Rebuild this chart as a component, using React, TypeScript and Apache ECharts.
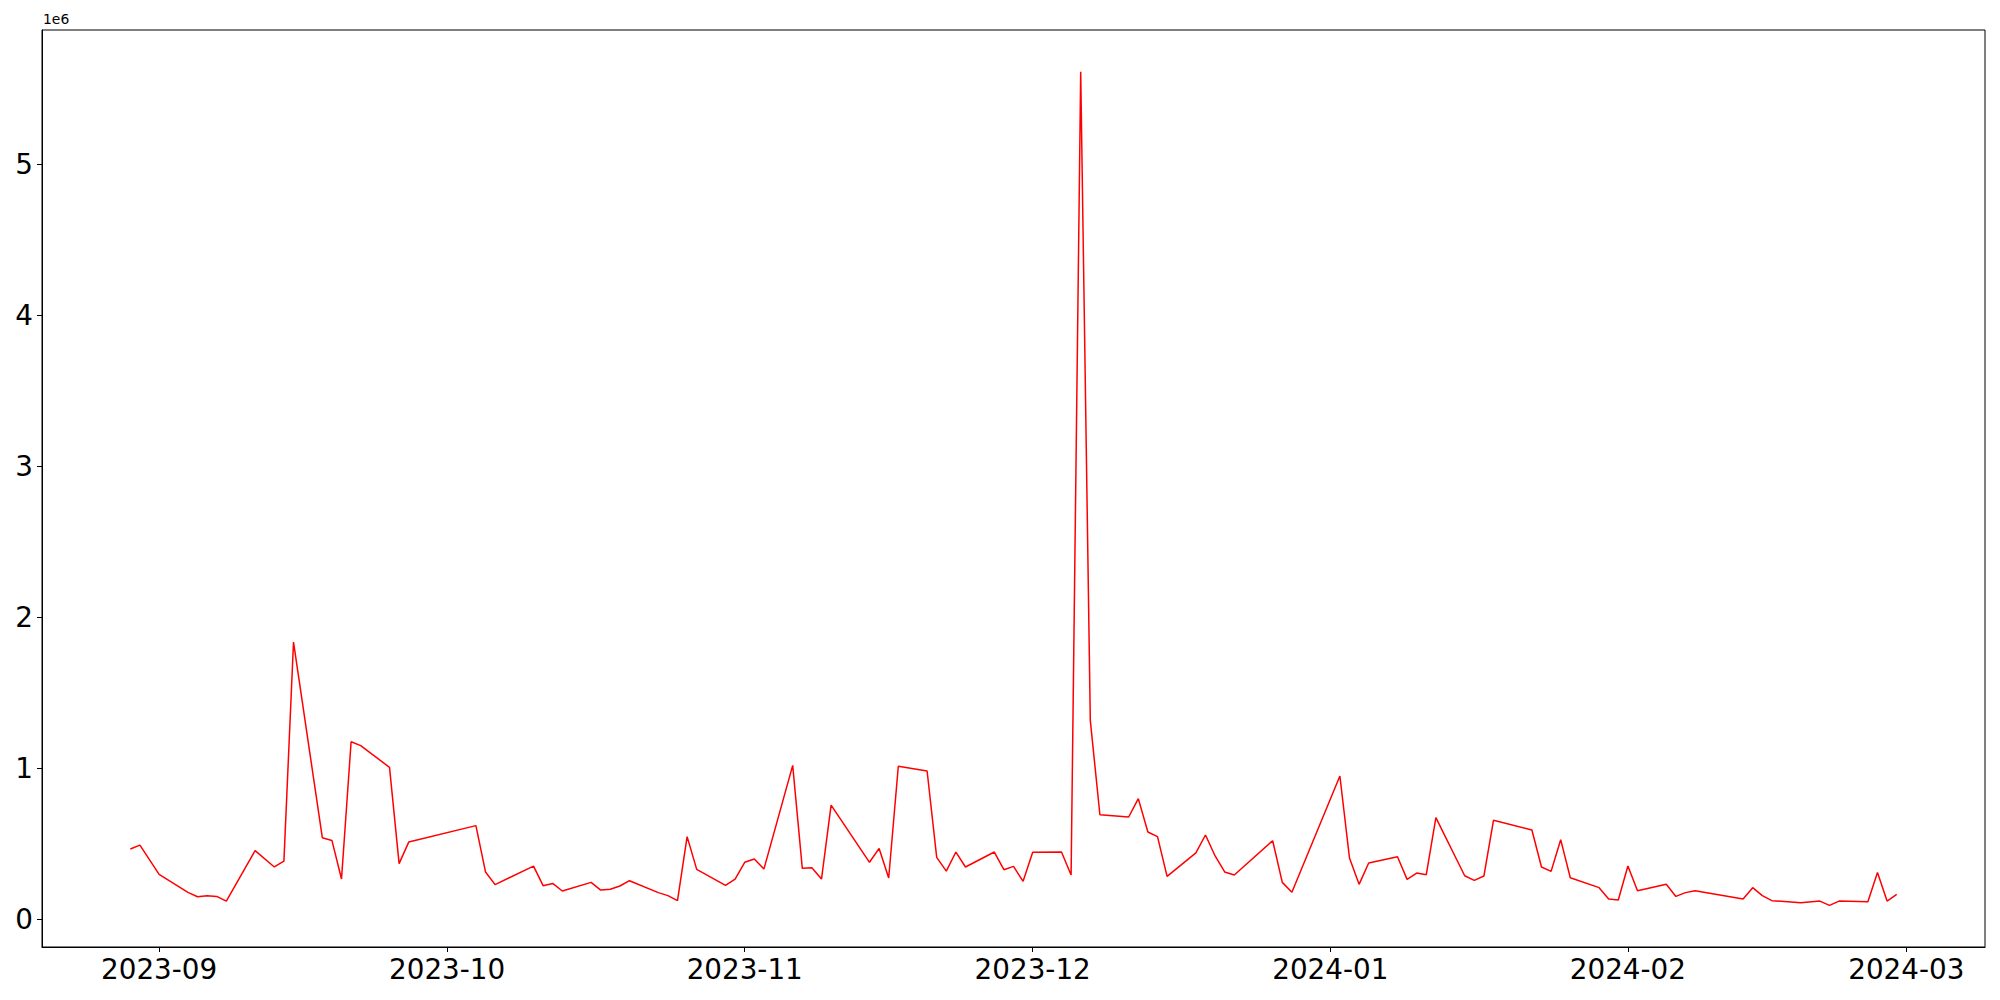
import React, { useEffect, useRef } from "react";
import * as echarts from "echarts";

const dates: string[] = [
  "2023-08-29", "2023-08-30", "2023-09-01", "2023-09-04", "2023-09-05", "2023-09-06", "2023-09-07", "2023-09-08",
  "2023-09-11", "2023-09-13", "2023-09-14", "2023-09-15", "2023-09-18", "2023-09-19", "2023-09-20", "2023-09-21",
  "2023-09-22", "2023-09-25", "2023-09-26", "2023-09-27", "2023-10-04", "2023-10-05", "2023-10-06", "2023-10-10",
  "2023-10-11", "2023-10-12", "2023-10-13", "2023-10-16", "2023-10-17", "2023-10-18", "2023-10-19", "2023-10-20",
  "2023-10-23", "2023-10-24", "2023-10-25", "2023-10-26", "2023-10-27", "2023-10-30", "2023-10-31", "2023-11-01",
  "2023-11-02", "2023-11-03", "2023-11-06", "2023-11-07", "2023-11-08", "2023-11-09", "2023-11-10", "2023-11-14",
  "2023-11-15", "2023-11-16", "2023-11-17", "2023-11-20", "2023-11-21", "2023-11-22", "2023-11-23", "2023-11-24",
  "2023-11-27", "2023-11-28", "2023-11-29", "2023-11-30", "2023-12-01", "2023-12-04", "2023-12-05", "2023-12-06",
  "2023-12-07", "2023-12-08", "2023-12-11", "2023-12-12", "2023-12-13", "2023-12-14", "2023-12-15", "2023-12-18",
  "2023-12-19", "2023-12-20", "2023-12-21", "2023-12-22", "2023-12-26", "2023-12-27", "2023-12-28", "2024-01-02",
  "2024-01-03", "2024-01-04", "2024-01-05", "2024-01-08", "2024-01-09", "2024-01-10", "2024-01-11", "2024-01-12",
  "2024-01-15", "2024-01-16", "2024-01-17", "2024-01-18", "2024-01-22", "2024-01-23", "2024-01-24", "2024-01-25",
  "2024-01-26", "2024-01-29", "2024-01-30", "2024-01-31", "2024-02-01", "2024-02-02", "2024-02-05", "2024-02-06",
  "2024-02-07", "2024-02-08", "2024-02-13", "2024-02-14", "2024-02-15", "2024-02-16", "2024-02-19", "2024-02-21",
  "2024-02-22", "2024-02-23", "2024-02-26", "2024-02-27", "2024-02-28", "2024-02-29",
];

const values: number[] = [
  466000, 492000, 298000, 179000, 150000, 157000, 152000, 121000,
  455000, 347000, 386000, 1837000, 541000, 523000, 267000, 1177000,
  1151000, 1007000, 369000, 512000, 621000, 314000, 230000, 353000,
  223000, 238000, 188000, 245000, 194000, 199000, 221000, 256000,
  177000, 157000, 124000, 548000, 331000, 225000, 267000, 378000,
  400000, 333000, 1020000, 338000, 342000, 267000, 757000, 378000,
  470000, 274000, 1014000, 983000, 411000, 320000, 446000, 347000,
  446000, 329000, 351000, 252000, 444000, 446000, 294000, 5616000,
  1318000, 693000, 678000, 800000, 579000, 548000, 285000, 440000,
  559000, 420000, 314000, 294000, 521000, 245000, 179000, 950000,
  406000, 232000, 373000, 415000, 265000, 307000, 296000, 674000,
  289000, 258000, 287000, 656000, 592000, 347000, 318000, 528000,
  276000, 210000, 135000, 128000, 353000, 190000, 232000, 152000,
  177000, 190000, 135000, 210000, 157000, 124000, 110000, 121000,
  93000, 121000, 117000, 311000, 121000, 166000,
];

const xTickLabels: string[] = ["2023-09", "2023-10", "2023-11", "2023-12", "2024-01", "2024-02", "2024-03"];
const yTickValues: number[] = [0, 1, 2, 3, 4, 5];
const yScale = 1e6;

function toTime(s: string): number {
  const [y, m, d] = s.split("-").map(Number);
  return new Date(y, m - 1, d || 1).getTime();
}

export default function App() {
  const ref = useRef<HTMLDivElement>(null);

  useEffect(() => {
    if (!ref.current) return;
    const chart = echarts.init(ref.current, null, { renderer: "svg" });
    const seriesData = dates.map((d, i) => [toTime(d), values[i]]);
    const first = toTime(dates[0]);
    const last = toTime(dates[dates.length - 1]);
    const span = last - first;
    const vmin = Math.min(...values);
    const vmax = Math.max(...values);
    const vr = vmax - vmin;
    const xTicks = xTickLabels.map((t) => toTime(t));
    const yTicks = yTickValues.map((v) => v * yScale);
    const font = "DejaVu Sans";

    chart.setOption({
      animation: false,
      backgroundColor: "#ffffff",
      grid: {
        left: 42,
        right: 15,
        top: 30,
        bottom: 53,
        show: true,
        borderColor: "#000",
        borderWidth: 1,
      },
      xAxis: {
        type: "value",
        min: first - span * 0.05,
        max: last + span * 0.05,
        axisLine: { show: true, onZero: false, lineStyle: { color: "#000", width: 1 } },
        axisTick: { show: true, inside: false, length: 5, lineStyle: { color: "#000", width: 1 }, customValues: xTicks },
        axisLabel: {
          show: true,
          customValues: xTicks,
          margin: 8,
          color: "#000",
          fontFamily: font,
          fontSize: 27.8,
          formatter: (v: number) => {
            const d = new Date(v);
            const m = d.getMonth() + 1;
            return d.getFullYear() + "-" + (m < 10 ? "0" + m : "" + m);
          },
        },
        splitLine: { show: false },
      },
      yAxis: {
        type: "value",
        min: vmin - vr * 0.05,
        max: vmax + vr * 0.05,
        axisLine: { show: true, onZero: false, lineStyle: { color: "#000", width: 1 } },
        axisTick: { show: true, inside: false, length: 5, lineStyle: { color: "#000", width: 1 }, customValues: yTicks },
        axisLabel: {
          show: true,
          customValues: yTicks,
          margin: 9,
          color: "#000",
          fontFamily: font,
          fontSize: 27.8,
          formatter: (v: number) => String(Math.round(v / yScale)),
        },
        splitLine: { show: false },
      },
      graphic: [
        {
          type: "text",
          left: 43,
          top: 12,
          style: { text: "1e6", fontFamily: font, fontSize: 13.9, fill: "#000" },
        },
      ],
      series: [
        {
          type: "line",
          data: seriesData,
          showSymbol: false,
          symbol: "none",
          lineStyle: { color: "#ff0000", width: 1.5 },
          itemStyle: { color: "#ff0000" },
        },
      ],
    });
    return () => chart.dispose();
  }, []);

  return (
    <div
      ref={ref}
      style={{ position: "absolute", left: 0, top: 0, width: 2000, height: 1000 }}
    />
  );
}
